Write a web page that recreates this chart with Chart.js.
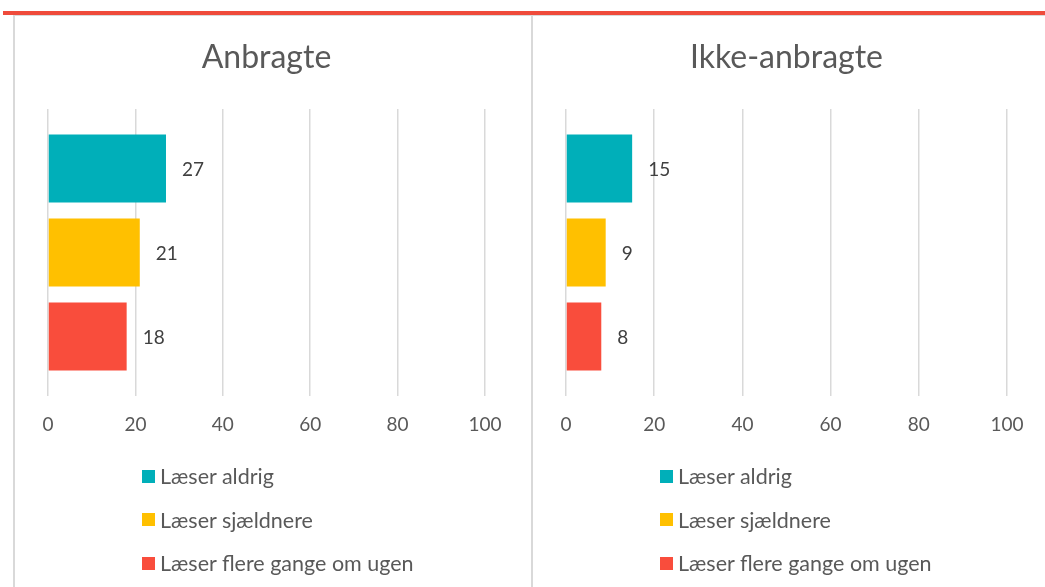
<!DOCTYPE html>
<html><head><meta charset="utf-8">
<script src="https://cdn.jsdelivr.net/npm/chart.js@4"></script>
<style>
html,body{margin:0;padding:0;background:#fff;}
body{width:1045px;height:587px;overflow:hidden;position:relative;font-family:Lato,"Noto Sans",sans-serif;}
#topline{position:absolute;left:3px;top:11px;width:1042px;height:4px;background:#EF4B3B;}
#greyline{position:absolute;left:14px;top:15px;width:1031px;height:1px;background:#d9d9d9;}
.vline{position:absolute;top:15px;width:2px;height:572px;background:#d9d9d9;}
canvas{position:absolute;top:16px;}
.leg{position:absolute;display:flex;align-items:center;height:24px;font-size:21.5px;color:#595959;white-space:nowrap;}
.leg span.box{display:inline-block;width:13px;height:13px;margin-right:5px;}
</style>
</head><body>
<div id="topline"></div><div id="greyline"></div>
<div class="vline" style="left:13px"></div>
<div class="vline" style="left:531px"></div>
<canvas id="c1" width="515" height="571" style="left:16px;width:515px;height:571px"></canvas>
<canvas id="c2" width="511" height="571" style="left:534px;width:511px;height:571px"></canvas>
<div id="legends"></div>
<script>
// ---- data ----
const panelTitles = ['Anbragte', 'Ikke-anbragte'];
const seriesNames = ['Læser aldrig', 'Læser sjældnere', 'Læser flere gange om ugen'];
const seriesColors = ['#00AFB9', '#FFC000', '#F94D3C'];
const anbragteValues = [27, 21, 18];
const ikkeAnbragteValues = [15, 9, 8];
const xTicks = [0, 20, 40, 60, 80, 100];

const valueLabels = {
  id: 'valueLabels',
  afterDatasetsDraw(chart) {
    const ctx = chart.ctx;
    ctx.save();
    ctx.font = '19px Lato';
    ctx.fillStyle = '#404040';
    ctx.textAlign = 'left';
    ctx.textBaseline = 'middle';
    chart.data.datasets.forEach((ds, i) => {
      chart.getDatasetMeta(i).data.forEach((el, j) => {
        ctx.fillText(String(ds.data[j]), el.x + 16, el.y + 1.5);
      });
    });
    ctx.restore();
  }
};

function makeChart(id, title, values, padLeft, padRight) {
  return new Chart(document.getElementById(id), {
    type: 'bar',
    data: {
      labels: [''],
      datasets: seriesNames.map((name, i) => ({
        label: name,
        data: [values[i]],
        backgroundColor: seriesColors[i],
        borderWidth: 0,
        categoryPercentage: 0.878,
        barPercentage: 0.81
      }))
    },
    options: {
      indexAxis: 'y',
      responsive: false,
      animation: false,
      layout: { padding: { left: padLeft, right: padRight, top: 0, bottom: 151 } },
      plugins: {
        legend: { display: false },
        tooltip: { enabled: false },
        title: {
          display: true,
          text: title,
          color: '#595959',
          font: { family: 'Lato', size: 32, weight: 'normal', lineHeight: 1.2 },
          padding: { top: 22, bottom: 32.6 }
        }
      },
      scales: {
        x: {
          min: xTicks[0],
          max: xTicks[xTicks.length - 1],
          afterBuildTicks: s => { s.ticks = xTicks.map(v => ({ value: v })); },
          afterFit: s => { s.height = 40; },
          ticks: { color: '#595959', font: { family: 'Lato', size: 19 }, padding: 17, maxRotation: 0 },
          grid: { color: '#d9d9d9', lineWidth: 1.5, drawTicks: false },
          border: { display: false }
        },
        y: { display: false }
      }
    },
    plugins: [valueLabels]
  });
}

function makeLegend(left) {
  const wrap = document.getElementById('legends');
  seriesNames.forEach((name, i) => {
    const d = document.createElement('div');
    d.className = 'leg';
    d.style.left = left + 'px';
    d.style.top = (476 - 12 + i * 43.5) + 'px';
    const b = document.createElement('span');
    b.className = 'box';
    b.style.background = seriesColors[i];
    d.appendChild(b);
    d.appendChild(document.createTextNode(name));
    wrap.appendChild(d);
  });
}

function draw() {
  makeChart('c1', panelTitles[0], anbragteValues, 32, 46);
  makeChart('c2', panelTitles[1], ikkeAnbragteValues, 32, 38);
  makeLegend(142);
  makeLegend(660);
}
Promise.all([document.fonts.load('19px Lato'), document.fonts.load('32px Lato')]).then(draw, draw);
</script>
</body></html>
